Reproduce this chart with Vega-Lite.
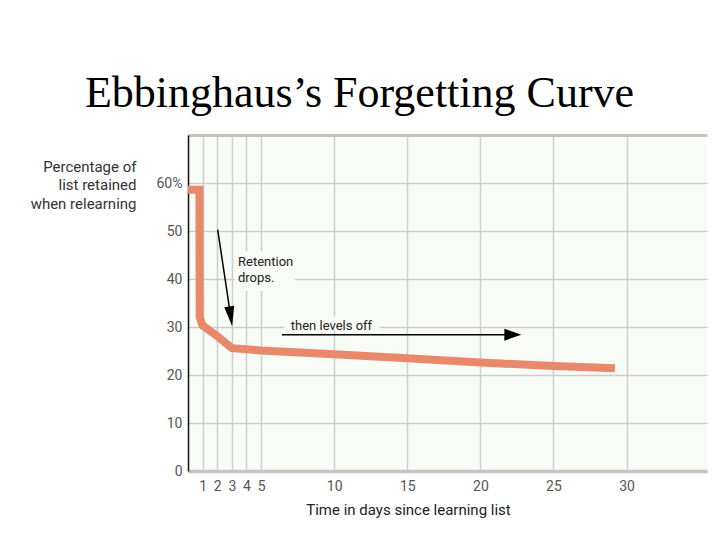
{
  "$schema": "https://vega.github.io/schema/vega-lite/v6.json",
  "width": 519,
  "height": 336,
  "autosize": "none",
  "padding": {"left": 188, "top": 135, "right": 13, "bottom": 69},
  "background": "white",
  "config": {"view": {"fill": "#f9fbf7", "stroke": null}},
  "title": {
    "text": "Ebbinghaus’s Forgetting Curve",
    "font": "Liberation Serif",
    "fontSize": 44,
    "fontWeight": "normal",
    "color": "#000000",
    "anchor": "middle",
    "frame": "group",
    "dx": -88,
    "dy": 43,
    "offset": 27,
    "baseline": "alphabetic"
  },
  "encoding": {
    "x": {
      "field": "day",
      "type": "quantitative",
      "scale": {"domain": [0, 35.5], "nice": false, "zero": false},
      "axis": {
        "values": [1, 2, 3, 4, 5, 10, 15, 20, 25, 30],
        "title": "Time in days since learning list",
        "grid": true,
        "gridColor": "#cdcdcd",
        "gridWidth": 1.5,
        "ticks": false,
        "domainColor": "#c4c4c4",
        "domainWidth": 3.5,
        "labelFont": "Roboto",
        "labelFontSize": 14,
        "labelColor": "#555555",
        "labelPadding": 8,
        "labelOverlap": false,
        "labelFlush": false,
        "titleFont": "Roboto",
        "titleFontSize": 15,
        "titleFontWeight": "normal",
        "titleColor": "#222222",
        "titleX": 220,
        "titleY": 38,
        "titleAlign": "center",
        "titleBaseline": "middle"
      }
    },
    "y": {
      "field": "value",
      "type": "quantitative",
      "scale": {"domain": [0, 70], "nice": false},
      "axis": {
        "values": [0, 10, 20, 30, 40, 50, 60, 70],
        "labelExpr": "datum.value == 70 ? '' : datum.value == 60 ? '60%' : datum.label",
        "grid": true,
        "gridColor": {"condition": {"test": "datum.value == 70", "value": "#c4c4c4"}, "value": "#cdcdcd"},
        "gridWidth": {"condition": {"test": "datum.value == 70", "value": 3}, "value": 1.5},
        "ticks": false,
        "domainColor": "#111111",
        "domainWidth": 1.5,
        "labelFont": "Roboto",
        "labelFontSize": 14,
        "labelColor": "#555555",
        "labelPadding": 6,
        "title": ["Percentage of", "list retained", "when relearning"],
        "titleAngle": 0,
        "titleAlign": "right",
        "titleBaseline": "top",
        "titleX": -52,
        "titleY": 24,
        "titleFont": "Roboto",
        "titleFontSize": 15,
        "titleFontWeight": "normal",
        "titleColor": "#333333",
        "titleLineHeight": 18.5
      }
    }
  },
  "layer": [
    {
      "data": {"values": [
        {"day": 3.2, "day2": 7.3, "value": 37.5, "value2": 45.8},
        {"day": 6.6, "day2": 13.1, "value": 29.4, "value2": 32.2}
      ]},
      "mark": {"type": "rect", "fill": "#f9fbf7"},
      "encoding": {"x2": {"field": "day2"}, "y2": {"field": "value2"}}
    },
    {
      "data": {"values": [
        {"day": 0, "value": 58.6},
        {"day": 0.78, "value": 58.6},
        {"day": 0.8, "value": 32},
        {"day": 1, "value": 30.3},
        {"day": 2, "value": 28.1},
        {"day": 3, "value": 25.6},
        {"day": 5, "value": 25.1},
        {"day": 10, "value": 24.3},
        {"day": 15, "value": 23.5},
        {"day": 20, "value": 22.6},
        {"day": 25, "value": 21.9},
        {"day": 29.2, "value": 21.4}
      ]},
      "mark": {"type": "line", "color": "#e8896b", "strokeWidth": 8, "strokeCap": "butt", "strokeJoin": "miter"}
    },
    {
      "data": {"values": [
        {"day": 2.03, "value": 50.3, "day2": 2.92, "value2": 32.2},
        {"day": 6.43, "value": 28.4, "day2": 22.0, "value2": 28.4}
      ]},
      "mark": {"type": "rule", "color": "#000000", "strokeWidth": 1.5},
      "encoding": {"x2": {"field": "day2"}, "y2": {"field": "value2"}}
    },
    {
      "data": {"values": [{"day": 2.92, "value": 32.2}]},
      "mark": {"type": "point", "shape": "M-0.5,-1L0.5,-1L0,1Z", "size": 400, "angle": -8.5, "filled": true, "color": "#000000", "opacity": 1, "strokeWidth": 0}
    },
    {
      "data": {"values": [{"day": 22.22, "value": 28.4}]},
      "mark": {"type": "point", "shape": "M-1,-0.7L1,0L-1,0.7Z", "size": 289, "filled": true, "color": "#000000", "opacity": 1, "strokeWidth": 0}
    },
    {
      "data": {"values": [
        {"day": 3.42, "value": 43.5, "label": "Retention"},
        {"day": 3.42, "value": 40.25, "label": "drops."},
        {"day": 7.03, "value": 30.3, "label": "then levels off"}
      ]},
      "mark": {"type": "text", "align": "left", "baseline": "middle", "font": "Roboto", "fontSize": 13, "color": "#222222"},
      "encoding": {"text": {"field": "label"}}
    }
  ]
}
